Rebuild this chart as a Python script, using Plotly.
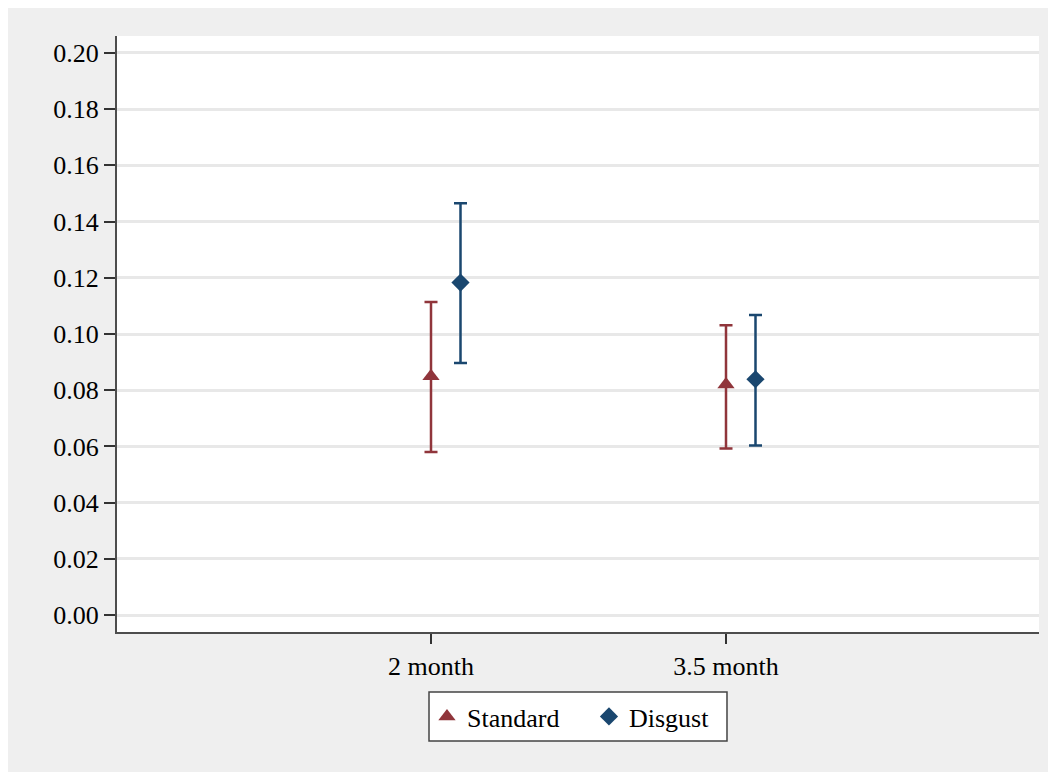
import plotly.graph_objects as go

categories = ["2 month", "3.5 month"]
cat_pos = [1, 2]
disgust_offset = 0.1

standard_mean = [0.085, 0.082]
standard_lo = [0.058, 0.0593]
standard_hi = [0.1114, 0.1031]

disgust_mean = [0.1183, 0.0839]
disgust_lo = [0.0897, 0.0603]
disgust_hi = [0.1465, 0.1068]

y_ticks = [0.00, 0.02, 0.04, 0.06, 0.08, 0.10, 0.12, 0.14, 0.16, 0.18, 0.20]

RED = "#90353b"
BLUE = "#1a476f"
FONT = "Liberation Serif"
FS = 26

fig = go.Figure()

fig.add_trace(go.Scatter(
    x=cat_pos, y=standard_mean, mode="markers", name="Standard",
    marker=dict(symbol="triangle-up", size=15, color=RED),
    error_y=dict(type="data", symmetric=False,
                 array=[h - m for h, m in zip(standard_hi, standard_mean)],
                 arrayminus=[m - l for m, l in zip(standard_mean, standard_lo)],
                 color=RED, thickness=2.5, width=6.5),
))
fig.add_trace(go.Scatter(
    x=[p + disgust_offset for p in cat_pos], y=disgust_mean, mode="markers", name="Disgust",
    marker=dict(symbol="diamond", size=14, color=BLUE),
    error_y=dict(type="data", symmetric=False,
                 array=[h - m for h, m in zip(disgust_hi, disgust_mean)],
                 arrayminus=[m - l for m, l in zip(disgust_mean, disgust_lo)],
                 color=BLUE, thickness=2.5, width=6.5),
))

fig.update_layout(
    width=1056, height=772,
    margin=dict(l=109, r=25, t=28, b=148),
    paper_bgcolor="#efefef",
    plot_bgcolor="white",
    font=dict(family=FONT, size=FS, color="#000"),
    showlegend=True,
    legend=dict(orientation="h", x=0.5119, xanchor="center", y=-0.1418, yanchor="middle",
                bgcolor="rgba(0,0,0,0)", borderwidth=0, entrywidth=117,
                font=dict(family=FONT, size=FS, color="#000")),
    shapes=[
        dict(type="rect", xref="paper", yref="paper", x0=0.3384, x1=0.6616, y0=-0.1829, y1=-0.1007,
             fillcolor="white", line=dict(width=1.5, color="#444"), layer="below"),
    ],
)

fig.update_xaxes(
    range=[-0.0644, 3.061], tickvals=cat_pos, ticktext=categories,
    showgrid=False, zeroline=False, showline=True, linecolor="#4d4d4d", linewidth=2,
    ticks="outside", ticklen=10, tickwidth=1.5, tickcolor="#333",
    tickfont=dict(family=FONT, size=FS, color="#000"),
)
fig.update_yaxes(
    range=[-0.006, 0.206], tickvals=y_ticks, tickformat=".2f",
    showgrid=True, gridcolor="#e8e8e8", gridwidth=2.5, zeroline=False,
    showline=True, linecolor="#4d4d4d", linewidth=2,
    ticks="outside", ticklen=11, tickwidth=1.5, tickcolor="#333",
    tickfont=dict(family=FONT, size=FS, color="#000"),
)

fig.write_html("out.html")
